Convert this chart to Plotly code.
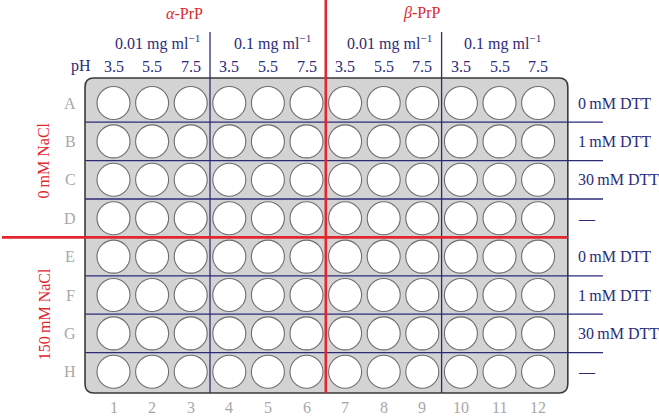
import plotly.graph_objects as go

# ---- data ----
columns = list(range(1, 13))
rows = ["A", "B", "C", "D", "E", "F", "G", "H"]
ph_values = ["3.5", "5.5", "7.5"] * 4
concentrations = ["0.01 mg ml<sup>−1</sup>", "0.1 mg ml<sup>−1</sup>",
                  "0.01 mg ml<sup>−1</sup>", "0.1 mg ml<sup>−1</sup>"]
conc_x = [2.13, 5.11, 8.16, 11.09]
proteins = ["<i>α</i>-PrP", "<i>β</i>-PrP"]
protein_x = [2.85, 8.99]
dtt_labels = ["0\u2009mM DTT", "1\u2009mM DTT", "30\u2009mM DTT", "—"] * 2
nacl_labels = ["0\u2009mM NaCl", "150\u2009mM NaCl"]
nacl_y = [2.5, 6.5]

# ---- style ----
RED = "#e0282e"
NAVY = "#2c2b7a"
GRAY = "#a8a8a8"
FONT = "Liberation Serif"
W, H = 659, 417
PX_X, PX_Y = 38.6, 38.4       # pixels per column / row
X0PX, Y0PX = 113.5, 103.0     # pixel position of well A1

xr = [1 - X0PX / PX_X, 1 + (W - X0PX) / PX_X]
yr = [1 + (H - Y0PX) / PX_Y, 1 - Y0PX / PX_Y]

nr, nc = len(rows), len(columns)
row_idx = {r: i + 1 for i, r in enumerate(rows)}

# plate bounds
pl, pr = 0.262, nc + 0.77
pt, pb = 0.349, nr + 0.552
rx, ry = 9 / PX_X, 9 / PX_Y

fig = go.Figure()

wx, wy = [], []
for r in rows:
    for c in columns:
        wx.append(c)
        wy.append(row_idx[r])
fig.add_trace(go.Scatter(
    x=wx, y=wy, mode="markers", hoverinfo="skip",
    marker=dict(symbol="circle", size=33, color="white",
                line=dict(color="#6e6e6e", width=1.1)),
    showlegend=False))

shapes = []
path = (f"M {pl+rx},{pt} L {pr-rx},{pt} Q {pr},{pt} {pr},{pt+ry} "
        f"L {pr},{pb-ry} Q {pr},{pb} {pr-rx},{pb} "
        f"L {pl+rx},{pb} Q {pl},{pb} {pl},{pb-ry} "
        f"L {pl},{pt+ry} Q {pl},{pt} {pl+rx},{pt} Z")
shapes.append(dict(type="path", path=path, xref="x", yref="y",
                   fillcolor="#d3d3d3", line=dict(color="#3a3a3a", width=1.6),
                   layer="below"))

# navy horizontal separators
dtt_right = 1 + (603 - X0PX) / PX_X
for i in [1, 2, 3, 5, 6, 7]:
    shapes.append(dict(type="line", xref="x", yref="y", x0=pl, x1=dtt_right,
                       y0=i + 0.5, y1=i + 0.5,
                       line=dict(color=NAVY, width=1.3), layer="above"))
# navy vertical separators
blue_top = 1 + (32 - Y0PX) / PX_Y
for c in [3.5, 9.5]:
    shapes.append(dict(type="line", xref="x", yref="y", x0=c, x1=c,
                       y0=blue_top, y1=pb,
                       line=dict(color=NAVY, width=1.3), layer="above"))
# red separators
shapes.append(dict(type="line", xref="x", yref="y", x0=6.5, x1=6.5,
                   y0=yr[1], y1=pb, line=dict(color=RED, width=2.6), layer="above"))
shapes.append(dict(type="line", xref="x", yref="y",
                   x0=1 + (2 - X0PX) / PX_X, x1=pr, y0=4.5, y1=4.5,
                   line=dict(color=RED, width=2.6), layer="above"))

ann = []
def t(x, y, text, color, size=16, xanchor="center", angle=0):
    ann.append(dict(x=x, y=y, xref="x", yref="y", text=text, showarrow=False,
                    xanchor=xanchor, yanchor="middle", textangle=angle,
                    font=dict(family=FONT, size=size, color=color)))

for x, p in zip(protein_x, proteins):
    t(x, 1 + (13 - Y0PX) / PX_Y, p, RED)
for x, cl in zip(conc_x, concentrations):
    t(x, 1 + (42 - Y0PX) / PX_Y, cl, NAVY)
ph_y = 1 + (66 - Y0PX) / PX_Y
t(1 + (80.5 - X0PX) / PX_X, ph_y, "pH", NAVY)
for c, ph in zip(columns, ph_values):
    t(c, ph_y, ph, NAVY)
for r in rows:
    t(1 + (70 - X0PX) / PX_X, row_idx[r], r, GRAY)
for c in columns:
    t(c, 1 + (407 - Y0PX) / PX_Y, str(c), GRAY)
for i, d in enumerate(dtt_labels):
    t(1 + (576 - X0PX) / PX_X, i + 1, d, NAVY, xanchor="left")
for y, n in zip(nacl_y, nacl_labels):
    t(1 + (44 - X0PX) / PX_X, y, n, RED, angle=-90)

fig.update_layout(
    width=W, height=H, margin=dict(l=0, r=0, t=0, b=0),
    paper_bgcolor="white", plot_bgcolor="white",
    xaxis=dict(range=xr, visible=False, fixedrange=True),
    yaxis=dict(range=yr, visible=False, fixedrange=True),
    shapes=shapes, annotations=ann, showlegend=False)

fig.write_html("out.html", config={"displayModeBar": False},
               post_script="document.body.style.margin='0';document.body.style.overflow='hidden';")
